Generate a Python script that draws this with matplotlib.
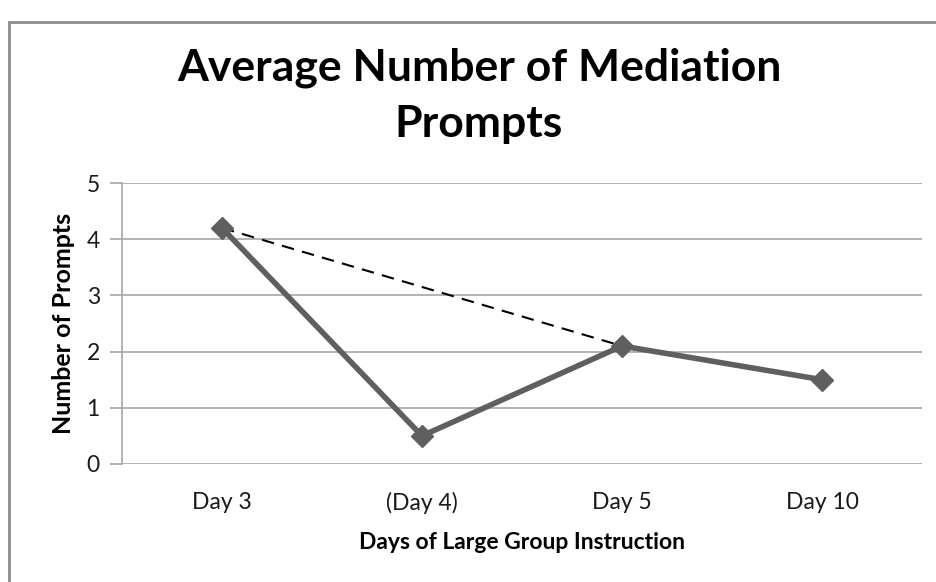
import matplotlib
matplotlib.use("Agg")
from matplotlib import pyplot as plt
from matplotlib.patches import Rectangle

# data
days = ["Day 3", "(Day 4)", "Day 5", "Day 10"]
prompts = [4.2, 0.5, 2.1, 1.5]
trend_idx = [0, 2]  # dashed line skips the (Day 4) point
y_ticks = [0, 1, 2, 3, 4, 5]

plt.rcParams["font.family"] = ["Lato", "DejaVu Sans"]

DPI = 100
fig = plt.figure(figsize=(936 / DPI, 582 / DPI), dpi=DPI)
W, H = 936, 582

# outer chart frame (only left/top visible in the reference)
fig.patches.append(Rectangle((9 / W, -0.1), 1.2, (H - 22) / H + 0.1,
                             transform=fig.transFigure, fill=False,
                             ec="#8c8c8c", lw=2))

ax = fig.add_axes([122 / W, (H - 464) / H, 800 / W, (464 - 183) / H])
x = list(range(len(days)))

ax.plot([x[i] for i in trend_idx], [prompts[i] for i in trend_idx],
        ls=(0, (6, 4)), lw=1.5, c="black", zorder=3)
ax.plot(x, prompts, ls="-", lw=4, c="#5f5f5f", marker="D", ms=11,
        mec="#5f5f5f", mfc="#5f5f5f", zorder=4)

ax.set_xlim(-0.5, len(days) - 0.5)
ax.set_ylim(0, 5)
ax.set_yticks(y_ticks)
ax.set_xticks(x)
ax.set_xticklabels(days)
ax.yaxis.grid(True, color="#a6a6a6", lw=1.2)
ax.set_axisbelow(True)
for s in ["top", "right", "bottom"]:
    ax.spines[s].set_visible(False)
ax.spines["left"].set_color("#a6a6a6")
ax.spines["left"].set_linewidth(1.2)
ax.tick_params(axis="y", length=9, color="#a6a6a6", width=1.2,
               labelsize=16.5, pad=7, labelcolor="#1a1a1a")
ax.tick_params(axis="x", length=0, labelsize=16.5, pad=20, labelcolor="#1a1a1a")

ax.set_xlabel("Days of Large Group Instruction", fontsize=16.5,
              fontweight="bold", labelpad=13)
ax.set_ylabel("Number of Prompts", fontsize=18, fontweight="bold", labelpad=8)

fig.text(479 / W, 1 - 96 / H, "Average Number of Mediation\nPrompts",
         ha="center", va="center", fontsize=32, fontweight="bold",
         linespacing=1.5)

fig.savefig("out.png", dpi=DPI)
plt.close("all")
